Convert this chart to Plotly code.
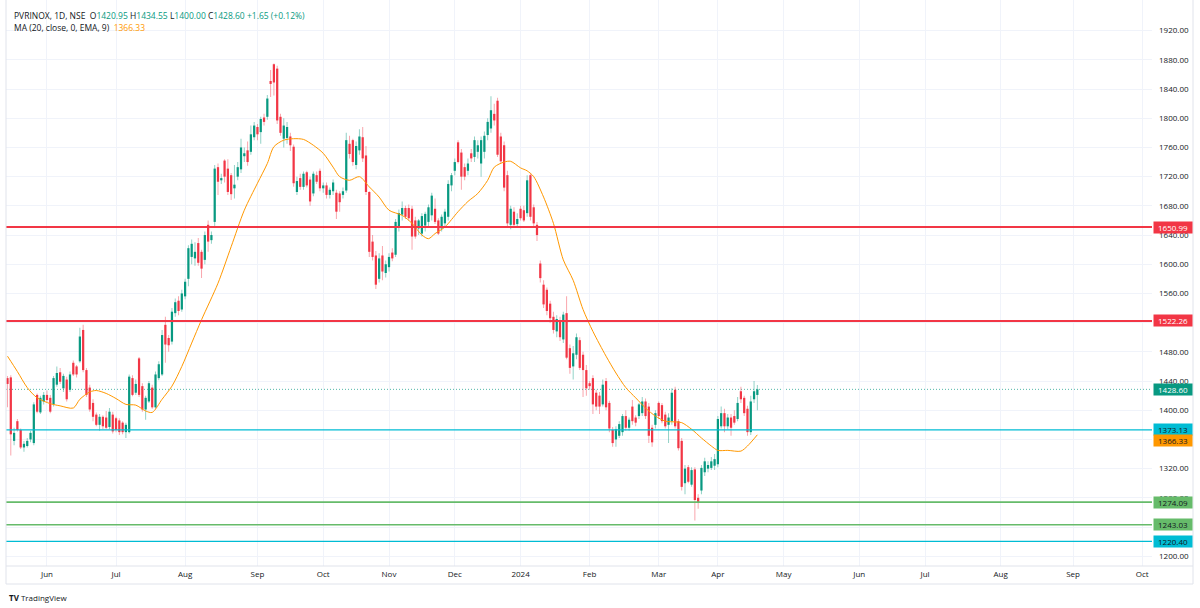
import plotly.graph_objects as go
import pandas as pd

# ---------------- data ----------------
open_ = [1444,1445,1358,1385,1373,1349,1351,1360,1355,1421,1397,1412,1421,1417,1408,1435,1452,1430,1442,1428,
         1465,1460,1467,1510,1455,1431,1410,1394,1380,1391,1390,1377,1394,1389,1386,1383,1370,1370,1444,1424,
         1471,1433,1401,1412,1431,1404,1444,1449,1517,1499,1494,1533,1550,1538,1556,1580,1610,1608,1629,1617,
         1606,1654,1633,1658,1733,1715,1742,1731,1722,1704,1720,1730,1748,1756,1754,1774,1788,1781,1801,1802,
         1851,1874,1868,1802,1772,1773,1775,1761,1699,1718,1706,1726,1716,1697,1722,1728,1704,1708,1695,1700,
         1698,1697,1695,1701,1765,1770,1736,1756,1774,1749,1699,1631,1612,1580,1612,1588,1596,1616,1613,1650,
         1668,1677,1677,1676,1660,1649,1642,1653,1658,1667,1676,1660,1649,1656,1665,1708,1728,1767,1753,1733,
         1728,1752,1747,1754,1738,1754,1777,1786,1806,1824,1775,1763,1722,1654,1672,1655,1676,1674,1670,1722,
         1678,1654,1601,1572,1565,1546,1528,1508,1522,1497,1533,1485,1460,1476,1496,1476,1455,1437,1444,1424,
         1420,1408,1440,1410,1373,1360,1365,1370,1392,1376,1405,1390,1392,1396,1412,1405,1376,1380,1410,1407,
         1394,1380,1385,1428,1385,1358,1300,1322,1298,1319,1280,1290,1315,1320,1321,1324,1326,1378,1396,1378,
         1390,1392,1388,1426,1417,1402,1370,1415,1420.95]
high = [1447,1448,1376,1388,1375,1358,1362,1372,1411,1423,1420,1425,1427,1421,1447,1460,1458,1450,1446,1453,
        1468,1462,1513,1517,1458,1435,1415,1397,1395,1393,1399,1403,1398,1391,1389,1385,1383,1449,1448,1442,
        1473,1437,1420,1440,1435,1453,1467,1510,1528,1503,1540,1553,1556,1565,1580,1626,1634,1630,1636,1620,
        1645,1660,1645,1736,1738,1724,1744,1744,1725,1736,1740,1772,1760,1768,1790,1795,1792,1802,1806,1832,
        1866,1875,1872,1806,1800,1795,1780,1764,1720,1724,1727,1728,1720,1727,1727,1731,1712,1712,1705,1716,
        1702,1700,1705,1780,1776,1772,1768,1785,1788,1762,1700,1640,1618,1615,1625,1605,1615,1622,1662,1675,
        1686,1680,1682,1680,1665,1662,1670,1672,1682,1698,1690,1663,1668,1676,1715,1725,1745,1770,1758,1738,
        1745,1758,1775,1770,1775,1782,1800,1830,1820,1828,1780,1768,1728,1680,1678,1670,1680,1680,1722,1725,
        1682,1658,1605,1578,1568,1550,1535,1530,1528,1535,1556,1490,1488,1505,1500,1480,1462,1440,1448,1428,
        1425,1442,1444,1413,1377,1378,1385,1395,1400,1390,1414,1393,1410,1418,1416,1410,1380,1400,1412,1410,
        1398,1396,1430,1432,1388,1362,1325,1325,1322,1322,1285,1325,1335,1330,1336,1340,1392,1405,1402,1395,
        1395,1400,1418,1432,1420,1406,1420,1440,1434.55]
low = [1404,1338,1352,1371,1347,1343,1349,1356,1352,1396,1395,1408,1411,1396,1405,1432,1436,1425,1412,1425,
       1447,1445,1465,1452,1418,1398,1385,1378,1372,1374,1374,1374,1368,1370,1366,1367,1362,1368,1419,1421,
       1418,1398,1387,1410,1402,1402,1441,1447,1465,1480,1490,1528,1530,1535,1552,1570,1600,1598,1598,1581,
       1600,1617,1628,1652,1695,1710,1712,1695,1688,1690,1715,1725,1740,1735,1750,1770,1770,1765,1790,1798,
       1829,1831,1792,1776,1760,1765,1755,1706,1695,1702,1702,1705,1680,1693,1710,1700,1698,1690,1690,1695,
       1662,1672,1690,1698,1745,1735,1730,1750,1740,1695,1610,1605,1566,1575,1578,1582,1590,1604,1610,1645,
       1660,1662,1660,1620,1635,1640,1638,1645,1652,1660,1655,1640,1645,1652,1660,1700,1722,1738,1702,1715,
       1722,1740,1740,1745,1720,1745,1770,1780,1790,1747,1738,1700,1652,1648,1650,1650,1660,1658,1665,1660,
       1650,1632,1575,1540,1530,1520,1505,1500,1495,1492,1470,1450,1442,1470,1455,1418,1420,1428,1395,1400,
       1395,1405,1400,1370,1350,1350,1362,1365,1372,1372,1380,1378,1388,1392,1388,1355,1350,1375,1388,1382,
       1375,1355,1380,1375,1345,1290,1285,1300,1295,1249,1265,1285,1310,1315,1318,1318,1322,1375,1370,1374,
       1365,1380,1385,1410,1392,1365,1366,1410,1400]
close = [1436,1367,1369,1373,1349,1354,1358,1369,1408,1398,1417,1421,1414,1398,1444,1451,1439,1447,1415,1449,
         1449,1449,1501,1455,1421,1401,1391,1380,1391,1378,1376,1398,1371,1373,1370,1370,1380,1446,1421,1436,
         1421,1401,1417,1437,1404,1449,1463,1503,1490,1489,1535,1548,1536,1560,1576,1622,1628,1617,1602,1594,
         1640,1631,1640,1731,1713,1718,1720,1699,1696,1709,1733,1760,1752,1740,1778,1790,1778,1799,1795,1827,
         1847,1849,1797,1780,1790,1788,1763,1711,1714,1706,1724,1708,1686,1724,1713,1704,1708,1695,1702,1712,
         1672,1685,1700,1770,1751,1740,1762,1775,1745,1699,1617,1610,1572,1608,1590,1600,1610,1608,1658,1670,
         1677,1665,1663,1638,1638,1660,1666,1669,1678,1694,1658,1642,1665,1672,1710,1722,1740,1740,1720,1720,
         1738,1745,1770,1763,1770,1776,1795,1811,1797,1750,1741,1705,1656,1676,1654,1662,1663,1660,1715,1665,
         1656,1640,1581,1545,1536,1526,1510,1525,1500,1531,1472,1458,1478,1500,1458,1455,1430,1433,1408,1405,
         1405,1435,1404,1375,1355,1374,1381,1392,1376,1387,1385,1383,1408,1412,1392,1365,1356,1396,1392,1385,
         1378,1390,1424,1378,1348,1295,1320,1302,1318,1277,1274,1321,1330,1325,1330,1333,1388,1396,1378,1390,
         1376,1383,1410,1415,1396,1370,1412,1426,1428.60]

# EMA line (bar index, value)
ma_idx = [0, 3, 6, 9, 13, 16, 20, 22, 25, 27, 30, 33, 36, 39, 42, 44, 47, 50, 53, 56, 59, 64, 68, 72, 76, 79,
          81, 84, 87, 90, 93, 96, 99, 101, 104, 107, 110, 113, 116, 120, 123, 126, 128, 130, 133, 137, 140, 143,
          146, 148, 151, 153, 156, 158, 160, 163, 166, 169, 172, 175, 178, 182, 185, 188, 191, 194, 197, 200,
          203, 205, 208, 211, 214, 216, 219, 223, 225, 228]
ma_val = [1474, 1453, 1431, 1417, 1409, 1406, 1403, 1415, 1425, 1427, 1423, 1416, 1408, 1407, 1399, 1397, 1415,
          1433, 1460, 1492, 1524, 1574, 1624, 1674, 1711, 1738, 1761, 1770, 1772, 1771, 1763, 1752, 1733, 1720,
          1715, 1720, 1706, 1692, 1674, 1667, 1656, 1640, 1635, 1642, 1651, 1672, 1686, 1697, 1715, 1733, 1740,
          1741, 1732, 1728, 1720, 1692, 1656, 1606, 1578, 1538, 1508, 1474, 1451, 1431, 1417, 1403, 1392, 1385,
          1384, 1383, 1374, 1362, 1351, 1345, 1345, 1344, 1351, 1366.33]

levels = [1650.99, 1522.26, 1373.13, 1274.09, 1243.03, 1220.40]
level_colors = ["#f23645", "#f23645", "#00bcd4", "#66bb6a", "#66bb6a", "#00bcd4"]
level_widths = [2, 2, 1.3, 1.6, 1.6, 1.3]
level_text = ["white", "white", "#131722", "#131722", "#131722", "#131722"]

last_price = 1428.60
ma_last = 1366.33
price_ticks = list(range(1200, 1921, 40))

nse_holidays = ["2023-06-29", "2023-08-15", "2023-09-19", "2023-10-02", "2023-10-24", "2023-11-14",
                "2023-11-27", "2023-12-25", "2024-01-22", "2024-01-26", "2024-03-08", "2024-03-25",
                "2024-03-29", "2024-04-11", "2024-04-17"]

# ---------------- time axis ----------------
hist = pd.bdate_range("2023-05-16", "2024-04-19")
hist = hist[~hist.isin(pd.to_datetime(nse_holidays))]
future = pd.bdate_range("2024-04-22", "2024-10-31")
all_dates = hist.append(future)

tickvals, ticktext = [], []
for k in range(1, len(all_dates)):
    d = all_dates[k]
    if d.month != all_dates[k - 1].month:
        tickvals.append(k)
        ticktext.append(str(d.year) if d.month == 1 else d.strftime("%b"))

n = min(len(open_), len(high), len(low), len(close))
xs = list(range(n))
UP, DOWN = "#089981", "#f23645"
UPW, DOWNW = "rgba(8,153,129,0.45)", "rgba(242,54,69,0.45)"
is_up = [close[i] >= open_[i] for i in range(n)]

fig = go.Figure()
# wicks
fig.add_trace(go.Bar(
    x=xs, base=[low[i] for i in range(n)], y=[high[i] - low[i] for i in range(n)],
    width=0.3, marker=dict(color=[UPW if u else DOWNW for u in is_up], line=dict(width=0)),
    hoverinfo="skip"))
# bodies
fig.add_trace(go.Bar(
    x=xs, base=[min(open_[i], close[i]) for i in range(n)],
    y=[max(abs(close[i] - open_[i]), 0.8) for i in range(n)],
    width=0.68, marker=dict(color=[UP if u else DOWN for u in is_up], line=dict(width=0)),
    hoverinfo="skip"))
# moving average
fig.add_trace(go.Scatter(x=ma_idx, y=ma_val, mode="lines",
                         line=dict(color="#ff9800", width=1, shape="spline", smoothing=0.8),
                         hoverinfo="skip"))

shapes = []
for lv, col, w in zip(levels, level_colors, level_widths):
    shapes.append(dict(type="line", xref="paper", yref="y", x0=0, x1=1, y0=lv, y1=lv,
                       line=dict(color=col, width=w), layer="above"))
shapes.append(dict(type="line", xref="paper", yref="y", x0=0, x1=1, y0=last_price, y1=last_price,
                   line=dict(color="rgba(8,153,129,0.7)", width=1, dash="1px,2px"), layer="below"))

# widget frame
PW, PH = 1146.0, 566.0
def px_x(p):
    return (p - 6) / PW
def px_y(p):
    return (566 - p) / PH
frame = "#e0e3eb"
shapes += [
    dict(type="line", xref="paper", yref="paper", x0=px_x(6), x1=px_x(1193), y0=0, y1=0,
         line=dict(color=frame, width=1)),
    dict(type="line", xref="paper", yref="paper", x0=px_x(6), x1=px_x(1193), y0=px_y(584), y1=px_y(584),
         line=dict(color=frame, width=1)),
    dict(type="line", xref="paper", yref="paper", x0=px_x(1193), x1=px_x(1193), y0=px_y(584), y1=1,
         line=dict(color=frame, width=1)),
    dict(type="line", xref="paper", yref="paper", x0=0, x1=0, y0=px_y(584), y1=1,
         line=dict(color=frame, width=1)),
]

FONT = "Open Sans"
FS = 8
annotations = []
# price-scale labels
box_specs = list(zip(levels, level_colors, level_text, [0] * len(levels)))
box_specs.append((last_price, "#089981", "white", 0))
box_specs.append((ma_last, "#ff9800", "#131722", -6))
for val, bg, fc, ysh in box_specs:
    annotations.append(dict(xref="paper", yref="y", x=px_x(1153), y=val, xanchor="left", yanchor="middle",
                            text=f"{val:.2f}", showarrow=False, bgcolor=bg, width=36, height=9, borderpad=1,
                            font=dict(family=FONT, size=FS, color=fc), align="center", yshift=ysh))

# header
g = "#089981"
hdr1 = ("PVRINOX, 1D, NSE&nbsp;&nbsp;O<span style='color:%s'>1420.95</span> H<span style='color:%s'>1434.55</span>"
        " L<span style='color:%s'>1400.00</span> C<span style='color:%s'>1428.60</span>"
        " <span style='color:%s'>+1.65 (+0.12%%)</span>") % (g, g, g, g, g)
hdr2 = "MA (20, close, 0, EMA, 9)&nbsp;&nbsp;<span style='color:#ff9800'>1366.33</span>"
annotations.append(dict(xref="paper", yref="paper", x=px_x(12), y=px_y(15.5), xanchor="left", yanchor="middle",
                        text=hdr1, showarrow=False, font=dict(family=FONT, size=8.5, color="#131722")))
annotations.append(dict(xref="paper", yref="paper", x=px_x(12), y=px_y(27), xanchor="left", yanchor="middle",
                        text=hdr2, showarrow=False, font=dict(family=FONT, size=8.5, color="#131722")))
# logo
annotations.append(dict(xref="paper", yref="paper", x=px_x(7), y=px_y(597), xanchor="left", yanchor="middle",
                        text="<b>TV</b> TradingView", showarrow=False,
                        font=dict(family=FONT, size=FS, color="#131722")))

fig.update_layout(
    width=1200, height=608,
    margin=dict(l=6, r=48, t=0, b=42, autoexpand=False),
    paper_bgcolor="white", plot_bgcolor="white",
    barmode="overlay", showlegend=False,
    shapes=shapes, annotations=annotations,
    xaxis=dict(range=[-0.46, 348], tickvals=tickvals, ticktext=ticktext, showgrid=True, gridcolor="#f0f3fa",
               zeroline=False, showline=False, ticks="", tickfont=dict(family=FONT, size=FS, color="#131722"),
               ticklabelstandoff=2, fixedrange=True, automargin=False),
    yaxis=dict(range=[1186.6, 1962], side="right", tickvals=price_ticks,
               ticktext=[f"{v:.2f}" for v in price_ticks], showgrid=True, gridcolor="#f0f3fa",
               zeroline=False, showline=False, ticks="", tickfont=dict(family=FONT, size=FS, color="#131722"),
               ticklabelstandoff=6, fixedrange=True, automargin=False),
    hovermode=False,
)

fig.write_html("out.html", config={"displayModeBar": False},
               post_script="document.body.style.margin='0';document.body.style.overflow='hidden';")
